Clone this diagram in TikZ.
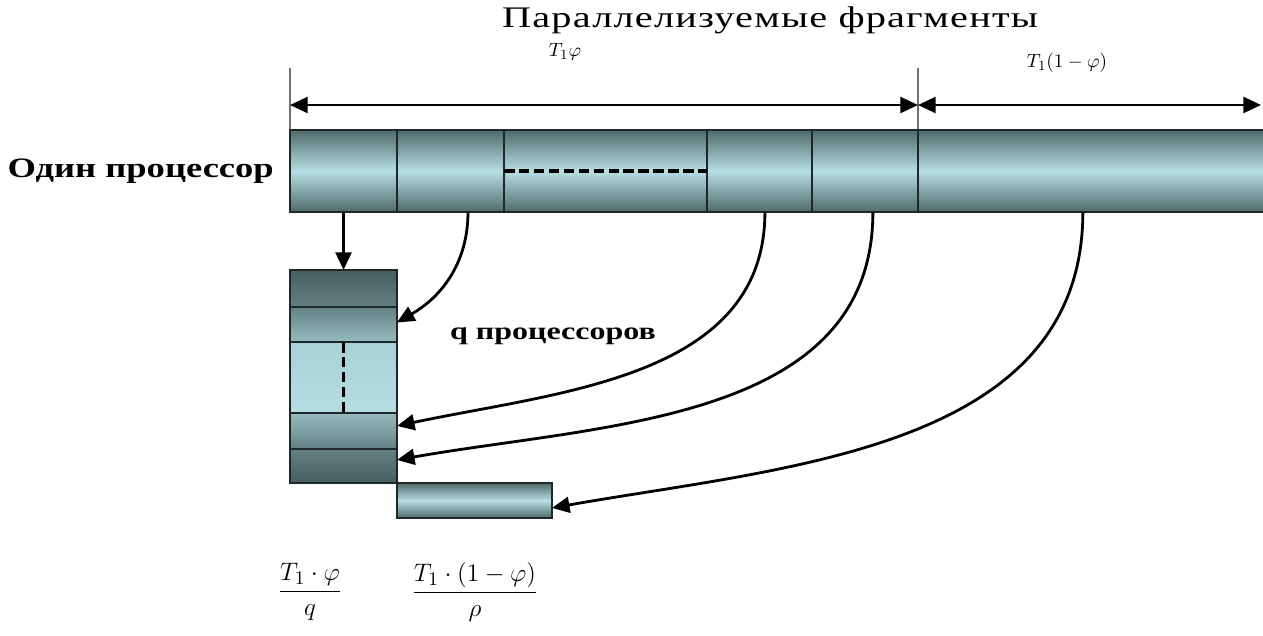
\documentclass[tikz,border=0pt]{standalone}
\usepackage{amsmath}
\usepackage{fontspec}
\setmainfont{Liberation Serif}
\newfontfamily\headfont[FakeStretch=1.35,LetterSpace=4]{Liberation Serif}
\newfontfamily\widefont[FakeStretch=1.3]{Liberation Serif}
\definecolor{cyldark}{RGB}{80,106,108}
\definecolor{cyllight}{RGB}{182,222,226}
\definecolor{rowdark}{RGB}{72,94,97}
\definecolor{rowmid}{RGB}{100,128,131}
\definecolor{rowpale}{RGB}{150,188,192}
\definecolor{boxline}{RGB}{30,40,40}
\usetikzlibrary{arrows.meta,positioning}

\begin{document}
\begin{tikzpicture}[
  x=0.02cm, y=0.02cm,
  segbox/.style={
    rectangle, draw=boxline, line width=0.8pt,
    inner sep=0pt, outer sep=0pt,
    minimum height=1.64cm,
    top color=cyldark, bottom color=cyldark, middle color=cyllight
  },
  rowbox/.style={
    rectangle, draw=boxline, line width=0.8pt,
    inner sep=0pt, outer sep=0pt,
    minimum width=2.14cm
  },
  conn/.style={-{Triangle[length=10pt,width=9pt]}, line width=1.6pt, draw=black},
  dimline/.style={{Triangle[length=10pt,width=9pt]}-{Triangle[length=10pt,width=9pt]}, line width=1.6pt},
  tickline/.style={line width=0.7pt, draw=boxline},
  dashline/.style={dash pattern=on 6pt off 2.5pt, line width=2pt}
]
\useasboundingbox (0,0) rectangle (1263,-635);

\node[font=\headfont\fontsize{17}{19}\selectfont] (title) at (770,-20) {Параллелизуемые фрагменты};
\node[font=\fontsize{11}{13}\selectfont] (lpar) at (565,-52) {$T_1\varphi$};
\node[font=\fontsize{11}{13}\selectfont] (lser) at (1067,-63) {$T_1(1-\varphi)$};

\node[segbox, minimum width=2.14cm] (seg1) at (343.5,-171) {};
\node[segbox, minimum width=2.14cm, right=0pt of seg1] (seg2) {};
\node[segbox, minimum width=4.06cm, right=0pt of seg2] (seg3) {};
\node[segbox, minimum width=2.10cm, right=0pt of seg3] (seg4) {};
\node[segbox, minimum width=2.12cm, right=0pt of seg4] (seg5) {};
\node[segbox, minimum width=7.04cm, right=0pt of seg5] (seg6) {};
\draw[dashline] (seg3.west) -- (seg3.east);

\node[font=\widefont\bfseries\fontsize{16}{18}\selectfont, left=0.2cm of seg1] (one) {Один процессор};

\coordinate (d0) at (290,-105);
\coordinate (d1) at (918,-105);
\coordinate (d2) at (1261,-105);
\coordinate (t0) at (290,-68);
\coordinate (t1) at (918,-68);
\draw[tickline] (t0) -- (seg1.north west);
\draw[tickline] (t1) -- (seg6.south west);
\draw[dimline] (d0) -- (d1);
\draw[dimline] (d1) -- (d2);

\node[rowbox, minimum height=0.74cm, top color=rowdark, bottom color=rowmid, below=1.16cm of seg1] (r1) {};
\node[rowbox, minimum height=0.70cm, top color=rowmid, bottom color=rowpale, below=0pt of r1] (r2) {};
\node[rowbox, minimum height=1.42cm, top color=rowpale!40!cyllight, bottom color=cyllight, below=0pt of r2] (r3) {};
\node[rowbox, minimum height=0.72cm, top color=rowpale, bottom color=rowmid, below=0pt of r3] (r4) {};
\node[rowbox, minimum height=0.68cm, top color=rowmid, bottom color=rowdark, below=0pt of r4] (r5) {};
\node[segbox, minimum width=3.10cm, minimum height=0.70cm, anchor=north west] (small) at (r5.south east) {};
\draw[dashline] (r3.north) -- (r3.south);

\node[font=\widefont\bfseries\fontsize{14}{16}\selectfont] (qproc) at (553,-336) {q процессоров};

\draw[conn] (seg1.south) -- (r1.north);
\draw[conn] ([xshift=0.35cm]seg2.south) to[out=-90, in=30] ([yshift=0.04cm]r2.east);
\draw[conn] ([xshift=0.11cm]seg4.south) to[out=-90, in=12] ([yshift=0.1cm]r4.east);
\draw[conn] ([xshift=0.16cm]seg5.south) to[out=-90, in=10] ([yshift=0.12cm]r5.east);
\draw[conn] ([xshift=-0.22cm]seg6.south) to[out=-90, in=10] ([yshift=-0.15cm]small.east);

\node[font=\fontsize{15.5}{18.5}\selectfont] (fpar) at (310,-592) {$\dfrac{T_1\cdot\varphi}{q}$};
\node[font=\fontsize{15.5}{18.5}\selectfont] (fser) at (475,-592) {$\dfrac{T_1\cdot(1-\varphi)}{\rho}$};
\end{tikzpicture}
\end{document}
